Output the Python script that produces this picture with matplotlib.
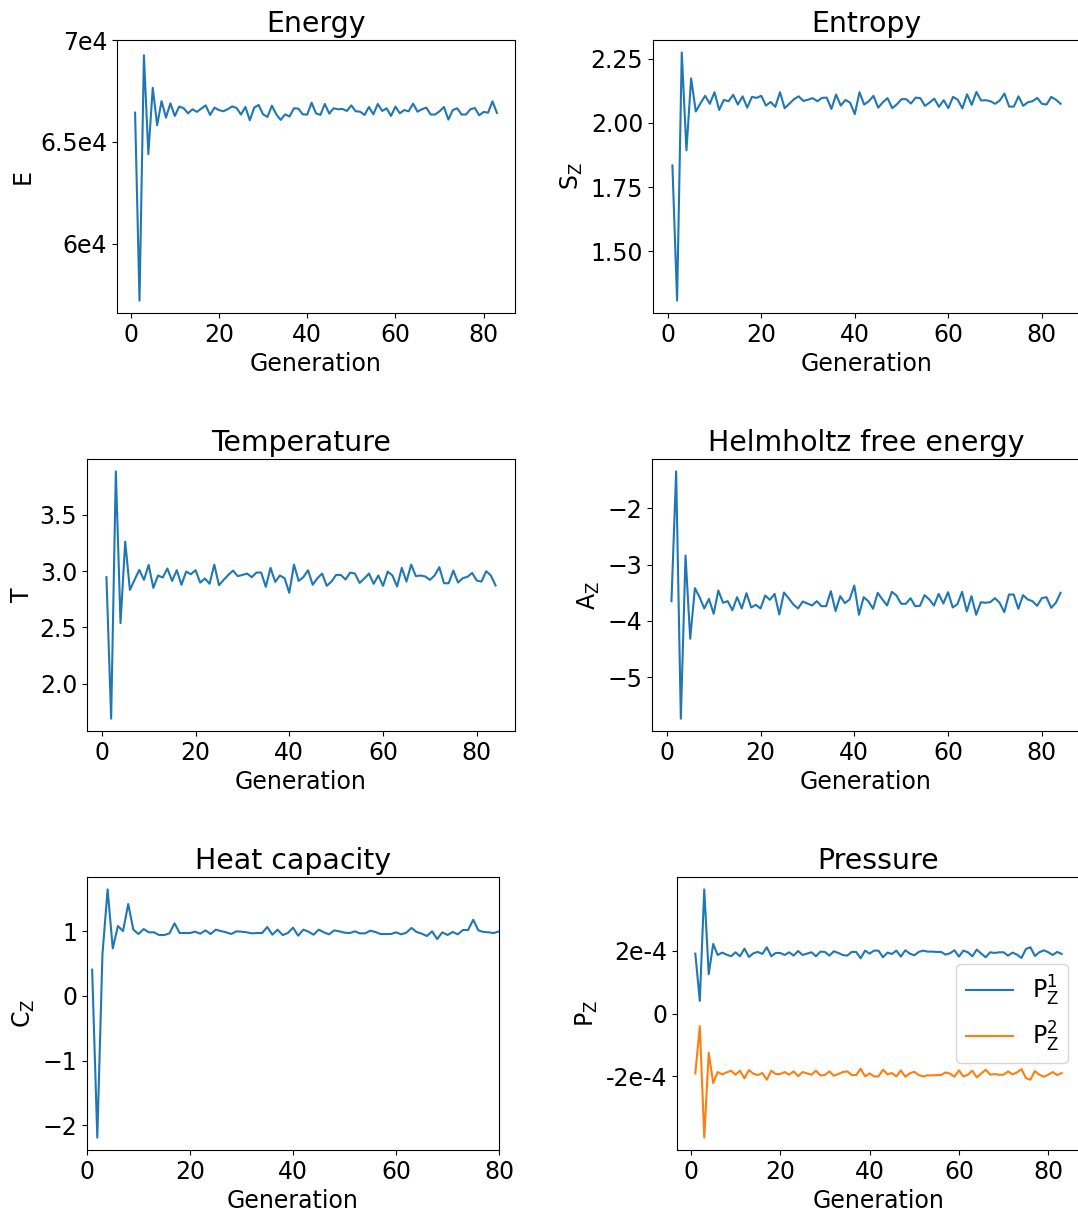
import numpy as np
import matplotlib
matplotlib.use('Agg')
import matplotlib.pyplot as plt

plt.rcParams['font.size'] = 17

# ── Data ────────────────────────────────────────────────────────────────────
energy = [66433, 57197, 69252, 64397, 67655, 65815, 67000, 66190, 66890, 66270,
          66730, 66650, 66400, 66600, 66470, 66630, 66790, 66320, 66680, 66560,
          66500, 66600, 66740, 66660, 66340, 66710, 66060, 66680, 66810, 66350,
          66220, 66775, 66350, 66075, 66350, 66240, 66645, 66630, 66350, 66335,
          66920, 66400, 66320, 66860, 66385, 66645, 66600, 66615, 66515, 66790,
          66500, 66480, 66320, 66710, 66350, 66860, 66515, 66645, 66270, 66730,
          66400, 66560, 66500, 66875, 66480, 66600, 66680, 66340, 66340, 66500,
          66710, 66090, 66560, 66645, 66340, 66340, 66600, 66660, 66300, 66470,
          66430, 66990, 66420]

entropy = [1.834, 1.308, 2.274, 1.893, 2.173, 2.044, 2.076, 2.105, 2.074, 2.119,
           2.050, 2.089, 2.084, 2.109, 2.071, 2.103, 2.059, 2.101, 2.097, 2.105,
           2.067, 2.081, 2.062, 2.119, 2.057, 2.074, 2.092, 2.103, 2.085, 2.090,
           2.096, 2.084, 2.097, 2.098, 2.054, 2.110, 2.067, 2.089, 2.078, 2.034,
           2.119, 2.071, 2.084, 2.105, 2.059, 2.080, 2.096, 2.057, 2.072, 2.092,
           2.092, 2.075, 2.098, 2.096, 2.066, 2.079, 2.094, 2.062, 2.088, 2.057,
           2.101, 2.090, 2.056, 2.111, 2.070, 2.120, 2.087, 2.088, 2.084, 2.074,
           2.087, 2.114, 2.063, 2.063, 2.103, 2.066, 2.080, 2.084, 2.097, 2.074,
           2.071, 2.101, 2.090, 2.074]

temperature = [2.947, 1.689, 3.888, 2.538, 3.263, 2.834, 2.923, 3.012, 2.923, 3.056,
               2.852, 2.962, 2.944, 3.024, 2.914, 3.009, 2.879, 2.997, 2.973, 3.009,
               2.899, 2.935, 2.888, 3.059, 2.876, 2.923, 2.967, 3.006, 2.956, 2.967,
               2.979, 2.947, 2.988, 2.988, 2.861, 3.030, 2.905, 2.962, 2.938, 2.808,
               3.059, 2.914, 2.947, 3.009, 2.879, 2.938, 2.979, 2.870, 2.908, 2.967,
               2.967, 2.926, 2.988, 2.979, 2.896, 2.935, 2.979, 2.888, 2.962, 2.870,
               2.997, 2.962, 2.864, 3.030, 2.908, 3.059, 2.956, 2.962, 2.953, 2.923,
               2.962, 3.036, 2.893, 2.893, 3.006, 2.899, 2.938, 2.950, 2.985, 2.917,
               2.908, 3.000, 2.962, 2.873]

helmholtz = [-3.651, -1.343, -5.740, -2.840, -4.320, -3.420, -3.580, -3.781, -3.609, -3.876,
             -3.462, -3.680, -3.651, -3.811, -3.580, -3.781, -3.509, -3.763, -3.716, -3.781,
             -3.550, -3.627, -3.521, -3.888, -3.497, -3.598, -3.710, -3.781, -3.657, -3.692,
             -3.728, -3.651, -3.740, -3.740, -3.473, -3.828, -3.562, -3.686, -3.621, -3.373,
             -3.893, -3.580, -3.651, -3.787, -3.503, -3.621, -3.728, -3.485, -3.550, -3.698,
             -3.698, -3.598, -3.740, -3.734, -3.544, -3.621, -3.728, -3.521, -3.692, -3.491,
             -3.763, -3.704, -3.485, -3.834, -3.562, -3.893, -3.669, -3.680, -3.669, -3.598,
             -3.680, -3.846, -3.533, -3.533, -3.787, -3.544, -3.621, -3.651, -3.734, -3.598,
             -3.580, -3.769, -3.680, -3.503]

heat_capacity = [0.407, -2.191, 0.644, 1.649, 0.737, 1.082, 1.005, 1.423, 1.026, 0.959,
                 1.036, 0.985, 0.985, 0.943, 0.943, 0.969, 1.124, 0.974, 0.974, 0.974,
                 0.995, 0.964, 1.015, 0.959, 1.026, 1.005, 0.985, 0.959, 1.000, 0.995,
                 0.985, 0.969, 0.974, 0.974, 1.067, 0.948, 1.026, 0.943, 0.974, 1.057,
                 0.933, 1.026, 0.995, 0.948, 1.026, 0.985, 0.954, 1.015, 1.000, 0.979,
                 0.974, 1.000, 0.969, 0.969, 1.010, 0.990, 0.959, 0.959, 0.959, 0.985,
                 0.954, 0.979, 1.052, 0.990, 0.964, 0.928, 1.000, 0.881, 0.985, 0.943,
                 0.990, 0.954, 1.021, 1.021, 1.180, 1.015, 0.990, 0.985, 0.974, 1.000]

# pressure, in units of 1e-4
p1 = [1.905, 0.402, 3.947, 1.249, 2.212, 1.862, 1.937, 1.873, 1.820, 1.947,
      1.820, 2.063, 1.799, 1.915, 1.958, 1.894, 2.106, 1.820, 1.926, 1.926,
      1.862, 1.947, 1.841, 1.989, 1.862, 1.905, 1.947, 1.820, 1.968, 1.958,
      1.841, 1.979, 1.926, 1.862, 1.841, 1.958, 1.958, 1.757, 2.000, 1.905,
      2.000, 2.000, 1.788, 1.937, 1.894, 2.000, 1.810, 2.011, 1.905, 1.852,
      1.958, 2.000, 1.968, 1.968, 1.958, 1.958, 1.873, 1.915, 2.011, 1.810,
      2.000, 1.947, 1.820, 2.032, 1.905, 1.788, 1.947, 1.926, 1.947, 1.947,
      1.841, 1.937, 1.873, 1.767, 2.053, 2.106, 1.831, 1.947, 2.011, 1.947,
      1.862, 1.958, 1.894]
p2 = [-1.905, -0.402, -3.947, -1.249, -2.212, -1.862, -1.937, -1.873, -1.820, -1.947,
      -1.820, -2.063, -1.799, -1.915, -1.958, -1.894, -2.106, -1.820, -1.926, -1.926,
      -1.862, -1.947, -1.841, -1.989, -1.862, -1.905, -1.947, -1.820, -1.968, -1.958,
      -1.841, -1.979, -1.926, -1.862, -1.841, -1.958, -1.958, -1.757, -2.000, -1.905,
      -2.000, -2.000, -1.788, -1.937, -1.894, -2.000, -1.810, -2.011, -1.905, -1.852,
      -1.958, -2.000, -1.968, -1.968, -1.958, -1.958, -1.873, -1.915, -2.011, -1.810,
      -2.000, -1.947, -1.820, -2.032, -1.905, -1.788, -1.947, -1.926, -1.947, -1.947,
      -1.841, -1.937, -1.873, -1.767, -2.053, -2.106, -1.831, -1.947, -2.011, -1.947,
      -1.862, -1.958, -1.894]

W, H = 1078, 1215
fig = plt.figure(figsize=(W / 100, H / 100), dpi=100)
fig.patch.set_facecolor('white')


def add_ax(left, right, top, bottom):
    # pixel box -> figure fraction
    return fig.add_axes([left / W, 1 - bottom / H, (right - left) / W, (bottom - top) / H])


def gens(vals):
    return np.arange(1, len(vals) + 1)


# Energy
ax = add_ax(117, 515, 40, 313)
ax.plot(gens(energy), energy)
ax.set_yticks([60000, 65000, 70000])
ax.set_yticklabels(['6e4', '6.5e4', '7e4'])
ax.set_title('Energy')
ax.set_ylabel('E')
ax.set_xlabel('Generation')

# Entropy
ax = add_ax(653, 1080, 40, 313)
ax.plot(gens(entropy), entropy)
ax.set_title('Entropy')
ax.set_ylabel(r'S$_{\rm Z}$')
ax.set_xlabel('Generation')

# Temperature
ax = add_ax(87, 515, 459, 731)
ax.plot(gens(temperature), temperature)
ax.set_title('Temperature')
ax.set_ylabel('T')
ax.set_xlabel('Generation')

# Helmholtz free energy
ax = add_ax(652, 1080, 459, 731)
ax.plot(gens(helmholtz), helmholtz)
ax.set_title('Helmholtz free energy')
ax.set_ylabel(r'A$_{\rm Z}$')
ax.set_xlabel('Generation')

# Heat capacity
ax = add_ax(87, 499, 877, 1150)
ax.plot(gens(heat_capacity), heat_capacity)
ax.set_xlim(0, 80)
ax.set_title('Heat capacity')
ax.set_ylabel(r'C$_{\rm Z}$')
ax.set_xlabel('Generation')

# Pressure
ax = add_ax(677, 1080, 877, 1150)
ax.plot(gens(p1), np.array(p1) * 1e-4, label=r'P$^1_{\rm Z}$')
ax.plot(gens(p2), np.array(p2) * 1e-4, label=r'P$^2_{\rm Z}$')
ax.set_yticks([-2e-4, 0, 2e-4])
ax.set_yticklabels(['-2e-4', '0', '2e-4'])
ax.set_title('Pressure')
ax.set_ylabel(r'P$_{\rm Z}$')
ax.set_xlabel('Generation')
ax.legend(loc='center right')

fig.savefig('out.png', dpi=100, facecolor='white')
